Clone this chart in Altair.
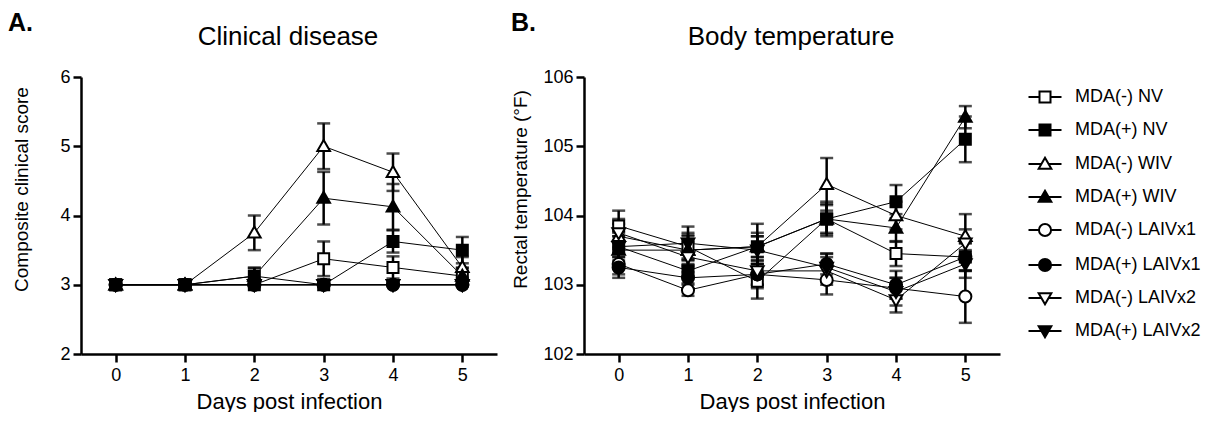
import altair as alt
import pandas as pd

FONT = "Liberation Sans, Arial, Helvetica, sans-serif"

days = [0, 1, 2, 3, 4, 5]
series = ["MDA(-) NV", "MDA(+) NV", "MDA(-) WIV", "MDA(+) WIV",
          "MDA(-) LAIVx1", "MDA(+) LAIVx1", "MDA(-) LAIVx2", "MDA(+) LAIVx2"]

# Panel A: composite clinical score (mean, SEM)
score_nv_neg = [3.0, 3.0, 3.0, 3.375, 3.25, 3.125]
score_nv_pos = [3.0, 3.0, 3.125, 3.0, 3.625, 3.5]
score_wiv_neg = [3.0, 3.0, 3.75, 5.0, 4.625, 3.25]
score_wiv_pos = [3.0, 3.0, 3.125, 4.25, 4.125, 3.125]
score_x1_neg = [3.0, 3.0, 3.0, 3.0, 3.0, 3.0]
score_x1_pos = [3.0, 3.0, 3.0, 3.0, 3.0, 3.0]
score_x2_neg = [3.0, 3.0, 3.0, 3.0, 3.0, 3.0]
score_x2_pos = [3.0, 3.0, 3.0, 3.0, 3.0, 3.0]

sem_score_nv_neg = [0, 0, 0, 0.25, 0.16, 0.12]
sem_score_nv_pos = [0, 0, 0.12, 0, 0.16, 0.19]
sem_score_wiv_neg = [0, 0, 0.25, 0.33, 0.27, 0.15]
sem_score_wiv_pos = [0, 0, 0.12, 0.38, 0.33, 0.12]
sem_score_x1_neg = [0, 0, 0, 0, 0, 0]
sem_score_x1_pos = [0, 0, 0, 0, 0, 0]
sem_score_x2_neg = [0, 0, 0, 0, 0, 0]
sem_score_x2_pos = [0, 0, 0, 0, 0, 0]

# Panel B: rectal temperature (°F) (mean, SEM)
temp_nv_neg = [103.85, 103.55, 103.05, 103.95, 103.45, 103.40]
temp_nv_pos = [103.55, 103.20, 103.55, 103.95, 104.20, 105.10]
temp_wiv_neg = [103.70, 103.50, 103.55, 104.45, 104.00, 103.70]
temp_wiv_pos = [103.50, 103.50, 103.55, 103.95, 103.82, 105.42]
temp_x1_neg = [103.30, 102.92, 103.15, 103.07, 102.95, 102.83]
temp_x1_pos = [103.25, 103.10, 103.15, 103.30, 103.00, 103.40]
temp_x2_neg = [103.75, 103.40, 103.20, 103.20, 102.78, 103.60]
temp_x2_pos = [103.55, 103.60, 103.50, 103.25, 102.90, 103.30]

sem_temp_nv_neg = [0.22, 0.20, 0.25, 0.20, 0.18, 0.20]
sem_temp_nv_pos = [0.15, 0.18, 0.15, 0.22, 0.24, 0.33]
sem_temp_wiv_neg = [0.18, 0.20, 0.33, 0.38, 0.20, 0.32]
sem_temp_wiv_pos = [0.20, 0.22, 0.20, 0.25, 0.20, 0.16]
sem_temp_x1_neg = [0.15, 0.08, 0.15, 0.21, 0.15, 0.38]
sem_temp_x1_pos = [0.15, 0.15, 0.20, 0.15, 0.20, 0.20]
sem_temp_x2_neg = [0.20, 0.22, 0.20, 0.20, 0.18, 0.20]
sem_temp_x2_pos = [0.20, 0.24, 0.20, 0.20, 0.20, 0.20]

score_means = [score_nv_neg, score_nv_pos, score_wiv_neg, score_wiv_pos,
               score_x1_neg, score_x1_pos, score_x2_neg, score_x2_pos]
score_sems = [sem_score_nv_neg, sem_score_nv_pos, sem_score_wiv_neg, sem_score_wiv_pos,
              sem_score_x1_neg, sem_score_x1_pos, sem_score_x2_neg, sem_score_x2_pos]
temp_means = [temp_nv_neg, temp_nv_pos, temp_wiv_neg, temp_wiv_pos,
              temp_x1_neg, temp_x1_pos, temp_x2_neg, temp_x2_pos]
temp_sems = [sem_temp_nv_neg, sem_temp_nv_pos, sem_temp_wiv_neg, sem_temp_wiv_pos,
             sem_temp_x1_neg, sem_temp_x1_pos, sem_temp_x2_neg, sem_temp_x2_pos]

fills = ["white", "black", "white", "black", "white", "black", "white", "black"]
strokes = ["black"] * 8

SQ = "M-1,-1H1V1H-1Z"
TU = "M0,-1.15L1.15,0.85H-1.15Z"
CI = "M1.1,0A1.1,1.1,0,1,1,-1.1,0A1.1,1.1,0,1,1,1.1,0Z"
TD = "M0,1.15L1.15,-0.85H-1.15Z"
marker_paths = [SQ, SQ, TU, TU, CI, CI, TD, TD]
legend_paths = [
    "M-3,0H-1M1,0H3" + SQ, "M-3,0H-1M1,0H3" + SQ,
    "M-3,0H-0.66M0.66,0H3" + TU, "M-3,0H-0.66M0.66,0H3" + TU,
    "M-3,0H-1.1M1.1,0H3" + CI, "M-3,0H-1.1M1.1,0H3" + CI,
    "M-3,0H-0.66M0.66,0H3" + TD, "M-3,0H-0.66M0.66,0H3" + TD,
]


def make_df(means, sems):
    rows = []
    for s, m, e in zip(series, means, sems):
        for d, v, se in zip(days, m, e):
            rows.append({"series": s, "day": d, "value": v, "sem": se,
                         "lo": v - se, "hi": v + se})
    return pd.DataFrame(rows)


df_a = make_df(score_means, score_sems)
df_b = make_df(temp_means, temp_sems)


def panel(df, ydomain, yvalues, ytitle, title, letter, y_title_pad, with_legend):
    xenc = alt.X("day:Q", scale=alt.Scale(domain=[-0.5, 5.5], nice=False, zero=False),
                 axis=alt.Axis(values=days, title="Days post infection", format="d",
                               titlePadding=7, labelPadding=4))
    yaxis = alt.Axis(values=yvalues, title=ytitle, format="d", titleY=112,
                     titlePadding=y_title_pad, labelPadding=3, titleFontSize=19)
    yscale = alt.Scale(domain=ydomain, nice=False, zero=False)
    base = alt.Chart(df)

    lines = base.mark_line(color="black", strokeWidth=1).encode(
        x=xenc, y=alt.Y("value:Q", scale=yscale, axis=yaxis), detail="series:N")
    err = base.transform_filter("datum.sem > 0")
    bars = err.mark_rule(color="black", strokeWidth=2.5).encode(
        x="day:Q", y="lo:Q", y2="hi:Q")
    cap_lo = err.mark_tick(color="black", orient="horizontal", size=13, thickness=2.5).encode(
        x="day:Q", y="lo:Q")
    cap_hi = err.mark_tick(color="black", orient="horizontal", size=13, thickness=2.5).encode(
        x="day:Q", y="hi:Q")
    marks = base.mark_point(filled=True, size=121, stroke="black", strokeWidth=2,
                            opacity=1).encode(
        x="day:Q", y="value:Q",
        shape=alt.Shape("series:N", scale=alt.Scale(domain=series, range=marker_paths),
                        legend=None),
        fill=alt.Fill("series:N", scale=alt.Scale(domain=series, range=fills),
                      legend=None))
    label = alt.Chart(pd.DataFrame({"t": [letter]})).mark_text(
        fontSize=25, fontWeight="bold", font=FONT, align="left", baseline="alphabetic",
        color="black").encode(text="t:N", x=alt.value(-73), y=alt.value(-46.5))
    head = alt.Chart(pd.DataFrame({"t": [title]})).mark_text(
        fontSize=26, fontWeight="normal", font=FONT, align="center", baseline="alphabetic",
        color="black").encode(text="t:N", x=alt.value(207), y=alt.value(-32))

    plot = alt.layer(lines, bars, cap_lo, cap_hi, marks, label, head)

    if with_legend:
        leg = alt.Legend(title=None, orient="none", legendX=452, legendY=11,
                         symbolSize=121, symbolStrokeWidth=2, symbolStrokeColor="black",
                         labelFontSize=18, labelFont=FONT, labelColor="black",
                         labelOffset=21, rowPadding=13, padding=0, symbolOpacity=1)
        legend_layer = alt.Chart(df).transform_filter("false").mark_point(
            filled=True, size=121, strokeWidth=2, opacity=1).encode(
            shape=alt.Shape("series:N", scale=alt.Scale(domain=series, range=legend_paths),
                            legend=leg),
            fill=alt.Fill("series:N", scale=alt.Scale(domain=series, range=fills),
                          legend=leg),
            stroke=alt.Stroke("series:N", scale=alt.Scale(domain=series, range=strokes),
                              legend=leg))
        plot = alt.layer(plot, legend_layer).resolve_scale(
            shape="independent", fill="independent", stroke="independent")

    return plot.properties(width=416, height=277)


a = panel(df_a, [2, 6], [2, 3, 4, 5, 6], "Composite clinical score", "Clinical disease",
          "A.", 28, False)
b = panel(df_b, [102, 106], [102, 103, 104, 105, 106], "Rectal temperature (°F)",
          "Body temperature", "B.", 12, True)

chart = alt.hconcat(a, b, spacing=14, padding={"left": 0, "top": 2, "right": 0, "bottom": 0}
                    ).resolve_scale(shape="independent", fill="independent",
                                    stroke="independent").configure_view(
    stroke=None
).configure_axis(
    grid=False, domainColor="black", domainWidth=2.5, tickColor="black", tickWidth=2.5,
    tickSize=8, labelFontSize=18, labelFont=FONT, labelColor="black",
    titleFontSize=22, titleFont=FONT, titleFontWeight="normal", titleColor="black"
)

chart.save("out.html", embed_options={"renderer": "svg", "actions": False})
